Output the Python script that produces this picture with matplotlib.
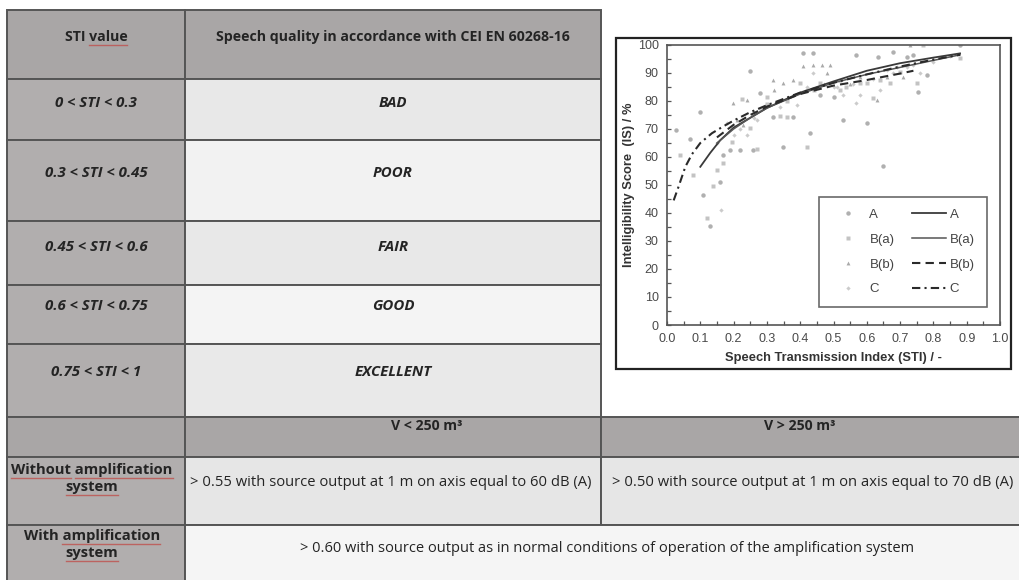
import matplotlib
matplotlib.use("Agg")
import matplotlib.pyplot as plt
from matplotlib.patches import Rectangle
from matplotlib.ticker import MultipleLocator

W, H = 1020, 580
TABLE_FONT = "Open Sans"
CHART_FONT = "Liberation Sans"

# ---- table content ----
header_left = "STI value"
header_right = "Speech quality in accordance with CEI EN 60268-16"
sti_ranges = ["0 < STI < 0.3", "0.3 < STI < 0.45", "0.45 < STI < 0.6",
              "0.6 < STI < 0.75", "0.75 < STI < 1"]
quality = ["BAD", "POOR", "FAIR", "GOOD", "EXCELLENT"]
volume_heads = ["V < 250 m³", "V > 250 m³"]
system_rows = [["Without amplification", "system"], ["With amplification", "system"]]
without_req = ["> 0.55 with source output at 1 m on axis equal to 60 dB (A)",
               "> 0.50 with source output at 1 m on axis equal to 70 dB (A)"]
with_req = "> 0.60 with source output as in normal conditions of operation of the amplification system"

# ---- chart data: STI vs intelligibility score ----
a_sti = [0.027, 0.069, 0.099, 0.109, 0.129, 0.159, 0.169, 0.189, 0.219, 0.249,
         0.259, 0.279, 0.319, 0.349, 0.379, 0.409, 0.437, 0.429, 0.459, 0.5,
         0.529, 0.569, 0.6, 0.635, 0.65, 0.68, 0.72, 0.74, 0.755, 0.78, 0.88]
a_is = [69.6, 66.3, 76.2, 46.4, 35.4, 51.2, 60.7, 62.5, 62.5, 90.8,
        62.5, 82.7, 74.4, 63.7, 74.4, 97.0, 97.3, 68.5, 82.1, 81.5,
        73.2, 96.4, 72.0, 95.8, 56.8, 97.6, 95.8, 96.4, 83.3, 89.3, 100.0]
ba_sti = [0.039, 0.079, 0.119, 0.139, 0.149, 0.169, 0.194, 0.224, 0.249, 0.269,
          0.299, 0.339, 0.359, 0.399, 0.419, 0.459, 0.52, 0.539, 0.579, 0.6,
          0.62, 0.64, 0.67, 0.7, 0.75, 0.77, 0.88, 0.3, 0.36, 0.44]
ba_is = [60.7, 53.6, 38.1, 49.8, 55.4, 58.0, 65.5, 80.6, 70.3, 63.0,
         81.5, 74.6, 74.4, 86.3, 63.7, 86.3, 83.9, 85.1, 86.3, 86.3,
         80.9, 87.5, 86.3, 90.5, 86.3, 100.0, 95.2, 79.0, 80.0, 84.0]
bb_sti = [0.199, 0.239, 0.209, 0.229, 0.319, 0.349, 0.379, 0.409, 0.439, 0.464,
          0.49, 0.479, 0.52, 0.579, 0.63, 0.66, 0.71, 0.73, 0.26, 0.32, 0.47, 0.55]
bb_is = [79.4, 80.4, 73.2, 71.4, 87.5, 86.3, 87.5, 92.5, 92.9, 92.9,
         92.9, 89.9, 87.5, 88.7, 80.4, 88.7, 88.7, 100.0, 76.0, 84.0, 86.0, 86.0]
c_sti = [0.161, 0.239, 0.269, 0.339, 0.389, 0.439, 0.5, 0.569, 0.68, 0.28,
         0.42, 0.51, 0.53, 0.56, 0.58, 0.62, 0.64, 0.66, 0.69, 0.72, 0.74,
         0.76, 0.8, 0.85, 0.2, 0.18, 0.15, 0.22, 0.26]
c_is = [41.0, 67.9, 73.2, 78.0, 78.6, 89.9, 85.1, 79.2, 89.9, 77.0,
        85.0, 85.0, 82.0, 86.0, 82.0, 88.0, 84.0, 91.0, 92.0, 92.0, 93.0,
        90.0, 94.0, 96.0, 68.0, 72.0, 65.0, 70.0, 74.0]

# fitted curves
fit_a_sti = [0.10, 0.13, 0.16, 0.2, 0.25, 0.3, 0.4, 0.5, 0.6, 0.7, 0.8, 0.88]
fit_a_is = [56.5, 61.5, 66, 70.5, 74, 77.5, 83, 87, 90.8, 93.5, 95.5, 97]
fit_ba_sti = [0.15, 0.2, 0.25, 0.3, 0.4, 0.5, 0.6, 0.7, 0.8, 0.88]
fit_ba_is = [65, 70, 74, 77.5, 82.5, 86.5, 89.5, 92, 94.5, 96.5]
fit_bb_sti = [0.15, 0.2, 0.25, 0.3, 0.4, 0.5, 0.6, 0.7, 0.74]
fit_bb_is = [67, 71.5, 75, 78, 82.5, 85.5, 87.5, 89.8, 90.8]
fit_c_sti = [0.02, 0.035, 0.055, 0.075, 0.1, 0.135, 0.17, 0.2, 0.25, 0.3,
             0.4, 0.5, 0.6, 0.7, 0.8, 0.88]
fit_c_is = [44.5, 49.5, 56.5, 61, 65, 68.5, 71, 73, 76, 78.5,
            83, 86.5, 89.5, 92.3, 94.8, 96.5]

# ---- layout (pixels) ----
COLS_TOP = [7, 185, 601]
ROWS_TOP = [10, 79, 140, 221, 285, 344, 417]
TEXT_Y_TOP = [37, 103, 173, 247, 306, 372]
COLS_BOT = [7, 185, 601, 1030]
ROWS_BOT = [417, 457, 525, 585]

HEAD_GRAY = "#a9a6a6"
LEFT_GRAY = "#b1aeae"
QUAL_FILL = ["#e8e8e8", "#f2f2f2", "#e8e8e8", "#f4f4f4", "#e9e9e9"]
LINE = "#555555"
INK = "#242424"
SQUIGGLE = "#c0504d"

fig = plt.figure(figsize=(W / 100, H / 100), dpi=100)
bg = fig.add_axes([0, 0, 1, 1])
bg.set_xlim(0, W)
bg.set_ylim(H, 0)
bg.axis("off")
renderer = fig.canvas.get_renderer()


def cell(x0, x1, y0, y1, fc):
    bg.add_patch(Rectangle((x0, y0), x1 - x0, y1 - y0, facecolor=fc,
                           edgecolor=LINE, lw=1.4))


def txt(x, y, s, italic=False, size=9.5, weight="bold", **kw):
    return bg.text(x, y, s, ha="center", va="center", family=TABLE_FONT,
                   fontweight=weight, style="italic" if italic else "normal",
                   fontsize=size, color=INK, **kw)


def squiggle(t, words):
    """red spell-check underline below given words of a single-line text"""
    full = t.get_text()
    ext = t.get_window_extent(renderer)
    for w in words:
        i = full.index(w)
        tmp = bg.text(0, 0, full[:i], family=TABLE_FONT, fontweight=t.get_fontweight(),
                      fontsize=t.get_fontsize())
        pre = tmp.get_window_extent(renderer).width if i else 0
        tmp.set_text(w)
        wid = tmp.get_window_extent(renderer).width
        tmp.remove()
        x0 = ext.x0 + pre
        y = H - ext.y0 + 1
        bg.plot([x0, x0 + wid], [y, y], color=SQUIGGLE, lw=1.0, alpha=0.8)


# upper table
cell(COLS_TOP[0], COLS_TOP[1], ROWS_TOP[0], ROWS_TOP[1], HEAD_GRAY)
cell(COLS_TOP[1], COLS_TOP[2], ROWS_TOP[0], ROWS_TOP[1], HEAD_GRAY)
t = txt((COLS_TOP[0] + COLS_TOP[1]) / 2, TEXT_Y_TOP[0], header_left, size=10.2)
squiggle(t, ["value"])
txt((COLS_TOP[1] + COLS_TOP[2]) / 2, TEXT_Y_TOP[0], header_right, size=10.2)
for i, (rng, q) in enumerate(zip(sti_ranges, quality)):
    y0, y1 = ROWS_TOP[i + 1], ROWS_TOP[i + 2]
    cell(COLS_TOP[0], COLS_TOP[1], y0, y1, LEFT_GRAY)
    cell(COLS_TOP[1], COLS_TOP[2], y0, y1, QUAL_FILL[i])
    txt((COLS_TOP[0] + COLS_TOP[1]) / 2, TEXT_Y_TOP[i + 1], rng, italic=True, size=10.8)
    txt((COLS_TOP[1] + COLS_TOP[2]) / 2, TEXT_Y_TOP[i + 1], q, italic=True, size=10.8)

# lower table
for j in range(3):
    cell(COLS_BOT[j], COLS_BOT[j + 1], ROWS_BOT[0], ROWS_BOT[1], HEAD_GRAY)
txt(427, 426, volume_heads[0], size=10.2)
txt(800, 426, volume_heads[1], size=10.2)
cell(COLS_BOT[0], COLS_BOT[1], ROWS_BOT[1], ROWS_BOT[2], LEFT_GRAY)
cell(COLS_BOT[1], COLS_BOT[2], ROWS_BOT[1], ROWS_BOT[2], "#e6e6e6")
cell(COLS_BOT[2], COLS_BOT[3], ROWS_BOT[1], ROWS_BOT[2], "#e6e6e6")
cell(COLS_BOT[0], COLS_BOT[1], ROWS_BOT[2], ROWS_BOT[3], LEFT_GRAY)
cell(COLS_BOT[1], COLS_BOT[3], ROWS_BOT[2], ROWS_BOT[3], "#f5f5f5")

for (first, second), y in zip(system_rows, [470, 536]):
    t1 = txt(92, y, first, size=10.6)
    t2 = txt(92, y + 17, second, size=10.6)
    squiggle(t1, [w for w in first.split() if w != "With"])
    squiggle(t2, [second])

txt(391, 483, without_req[0], size=10.6, weight="normal")
txt(813, 483, without_req[1], size=10.6, weight="normal")
txt(607, 548, with_req, size=10.5, weight="normal")

# chart frame
bg.add_patch(Rectangle((616, 38), 1011 - 616, 369 - 38, facecolor="white",
                       edgecolor="#222222", lw=1.6, zorder=3))

# ---- chart ----
ax = fig.add_axes([667 / W, 1 - 325 / H, (1000 - 667) / W, (325 - 45) / H])
ax.set_zorder(5)
mk = dict(linestyle="none", alpha=0.9)
ax.plot(a_sti, a_is, "o", ms=3.2, color="#a8a8a8", mec="none", label="A", **mk)
ax.plot(ba_sti, ba_is, "s", ms=2.4, color="#bdbdbd", mec="none", label="B(a)", **mk)
ax.plot(bb_sti, bb_is, "^", ms=2.8, color="#a0a0a0", mec="none", label="B(b)", **mk)
ax.plot(c_sti, c_is, "D", ms=2.2, color="#c6c6c6", mec="none", label="C", **mk)
ax.plot(fit_a_sti, fit_a_is, "-", color="#3a3a3a", lw=1.3, label="A")
ax.plot(fit_ba_sti, fit_ba_is, "-", color="#555555", lw=1.1, label="B(a)")
ax.plot(fit_bb_sti, fit_bb_is, "--", color="#2a2a2a", lw=1.5, dashes=(4, 2.5), label="B(b)")
ax.plot(fit_c_sti, fit_c_is, "-.", color="#2a2a2a", lw=1.5, dashes=(4, 2, 1, 2), label="C")

ax.set_xlim(0, 1)
ax.set_ylim(0, 100)
ax.xaxis.set_major_locator(MultipleLocator(0.1))
ax.xaxis.set_minor_locator(MultipleLocator(0.05))
ax.yaxis.set_major_locator(MultipleLocator(10))
ax.yaxis.set_minor_locator(MultipleLocator(5))
ax.xaxis.set_major_formatter(plt.FuncFormatter(lambda v, _: f"{v:.1f}"))
ax.tick_params(which="both", direction="in", length=3, width=0.9, color="#555555",
               labelsize=9, labelcolor="#4a4a4a", pad=6)
for lab in ax.get_xticklabels() + ax.get_yticklabels():
    lab.set_family(CHART_FONT)
for sp in ax.spines.values():
    sp.set_color("#555555")
    sp.set_linewidth(1.2)
ax.set_xlabel("Speech Transmission Index (STI) / -", family=CHART_FONT,
              fontweight="bold", fontsize=9.3, color="#333333", labelpad=5)
ax.set_ylabel("Intelligibility Score  (IS) / %", family=CHART_FONT,
              fontweight="bold", fontsize=9.3, color="#333333", labelpad=2)

leg = ax.legend(ncol=2, loc="lower right", bbox_to_anchor=(0.98, 0.04),
                prop={"family": CHART_FONT, "size": 9.5}, frameon=True,
                fancybox=False, edgecolor="#444444", handlelength=2.6,
                handletextpad=0.3, columnspacing=1.3, labelspacing=0.95,
                borderpad=0.9, markerscale=1.0)
leg.get_frame().set_linewidth(1.2)
for t in leg.get_texts():
    t.set_color("#444444")

fig.savefig("out.png", dpi=100)
